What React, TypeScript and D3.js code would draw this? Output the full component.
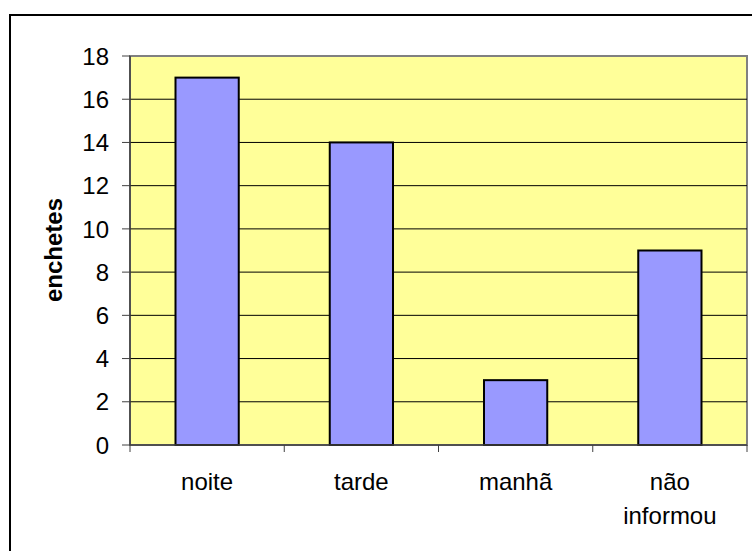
import React from "react";
import * as d3 from "d3";

const categories = ["noite", "tarde", "manhã", "não informou"];
const values = [17, 14, 3, 9];
const yTicks = [0, 2, 4, 6, 8, 10, 12, 14, 16, 18];
const yTitle = "enchetes";

export default function App() {
  const W = 752, H = 551;
  const left = 130, right = 747, top = 56, bottom = 445;
  const x = d3.scaleBand<string>().domain(categories).range([left, right]).paddingInner(0).paddingOuter(0);
  const y = d3.scaleLinear().domain([0, 18]).range([bottom, top]);
  const bw = x.bandwidth() * 0.41;
  const font = "'Liberation Sans', Arial, sans-serif";
  const fs = 24;
  const edges = categories.map((c) => x(c)!).concat([right]);
  return (
    <svg width={W} height={H} style={{ position: "absolute", left: 0, top: 0, background: "#fff" }} fontFamily={font}>
      <rect x={10} y={15} width={760} height={560} fill="#fff" stroke="#000" strokeWidth={2} />
      <rect x={left} y={top} width={right - left} height={bottom - top} fill="#FFFF99" stroke="#808080" strokeWidth={2} />
      {yTicks.filter((t) => t > 0 && t < 18).map((t) => (
        <line key={t} x1={left} x2={right} y1={y(t)} y2={y(t)} stroke="#000" strokeWidth={1} />
      ))}
      {categories.map((c, i) => (
        <rect key={c} x={x(c)! + x.bandwidth() / 2 - bw / 2} y={y(values[i])} width={bw} height={bottom - y(values[i])}
          fill="#9999FF" stroke="#000" strokeWidth={2} />
      ))}
      <line x1={left} x2={left} y1={top} y2={bottom} stroke="#404040" strokeWidth={1.5} />
      <line x1={left} x2={right} y1={bottom} y2={bottom} stroke="#404040" strokeWidth={1.5} />
      {yTicks.map((t) => (
        <g key={t}>
          <line x1={left - 8} x2={left} y1={y(t)} y2={y(t)} stroke="#404040" strokeWidth={1} />
          <text x={left - 21} y={y(t)} dy="0.36em" textAnchor="end" fontSize={fs} fill="#000">{t}</text>
        </g>
      ))}
      {edges.map((e, i) => (
        <line key={i} x1={e} x2={e} y1={bottom} y2={bottom + 7} stroke="#404040" strokeWidth={1} />
      ))}
      {categories.map((c) => {
        const words = c === "não informou" ? ["não", "informou"] : [c];
        return (
          <text key={c} x={x(c)! + x.bandwidth() / 2} y={490} textAnchor="middle" fontSize={fs} fill="#000">
            {words.map((w, i) => (
              <tspan key={i} x={x(c)! + x.bandwidth() / 2} dy={i === 0 ? 0 : 34}>{w}</tspan>
            ))}
          </text>
        );
      })}
      <text transform={`translate(62,250) rotate(-90)`} textAnchor="middle" fontSize={fs} fontWeight="bold" fill="#000">{yTitle}</text>
    </svg>
  );
}
